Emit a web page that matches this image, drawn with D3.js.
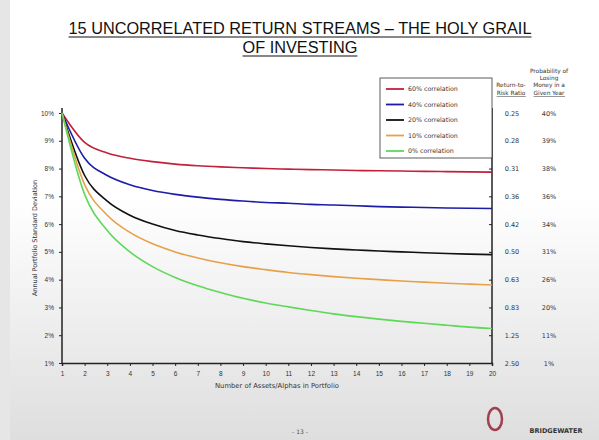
<!DOCTYPE html>
<html><head><meta charset="utf-8">
<script src="https://cdn.jsdelivr.net/npm/d3@7"></script>
<style>body{margin:0;background:#fff;font-family:"DejaVu Sans",sans-serif}</style>
</head><body><div id="chart"></div>
<script>
const assets = d3.range(1, 21);
const corr60 = [10,8.94,8.56,8.37,8.25,8.16,8.10,8.06,8.03,8.0,7.98,7.96,7.95,7.93,7.92,7.91,7.90,7.89,7.88,7.87];
const corr40 = [10,8.37,7.75,7.42,7.21,7.07,6.97,6.89,6.83,6.78,6.75,6.71,6.69,6.66,6.63,6.61,6.60,6.58,6.57,6.56];
const corr20 = [10,7.75,6.83,6.32,6.0,5.77,5.61,5.48,5.37,5.29,5.22,5.16,5.11,5.07,5.03,5.0,4.97,4.94,4.92,4.90];
const corr10 = [10,7.42,6.32,5.70,5.29,5.0,4.78,4.61,4.47,4.36,4.26,4.18,4.11,4.05,4.0,3.95,3.91,3.87,3.84,3.81];
const corr0  = [10,7.07,5.77,5.0,4.47,4.08,3.78,3.54,3.33,3.16,3.02,2.89,2.77,2.67,2.58,2.50,2.43,2.36,2.29,2.24];
const seriesNames = ["60% correlation","40% correlation","20% correlation","10% correlation","0% correlation"];
const seriesColors = ["#c0203a","#1c1ca8","#111111","#e8a048","#5ed858"];
const yTicks = [1,2,3,4,5,6,7,8,9,10];
const ratioLabels = ["2.50","1.25","0.83","0.63","0.50","0.42","0.36","0.31","0.28","0.25"];
const probLabels = ["1%","11%","20%","26%","31%","34%","36%","38%","39%","40%"];
const allSeries = [corr60, corr40, corr20, corr10, corr0];

const W = 599, H = 440;
const svg = d3.select("#chart").append("svg").attr("width", W).attr("height", H);
const grad = svg.append("defs").append("linearGradient").attr("id","bg").attr("x1",0).attr("y1",0).attr("x2",0).attr("y2",1);
grad.append("stop").attr("offset","0.45").attr("stop-color","#ffffff");
grad.append("stop").attr("offset","1").attr("stop-color","#dedede");
svg.append("rect").attr("width",W).attr("height",H).attr("fill","#e6e6e6");
svg.append("rect").attr("x",10).attr("y",0).attr("width",W-10).attr("height",H).attr("fill","url(#bg)");

const x = d3.scaleLinear().domain([1,20]).range([62,492]);
const y = d3.scaleLinear().domain([1,10]).range([363,113]);

// title
[["15 UNCORRELATED RETURN STREAMS – THE HOLY GRAIL",34],["OF INVESTING",53]].forEach(([t,yy])=>{
  const tx = svg.append("text").attr("x",300).attr("y",yy).attr("text-anchor","middle")
    .attr("font-size",16.3).attr("font-family","Liberation Sans, Arial").attr("fill","#111").text(t);
  const bb = tx.node().getBBox();
  svg.append("line").attr("x1",bb.x).attr("x2",bb.x+bb.width).attr("y1",yy+3).attr("y2",yy+3).attr("stroke","#111").attr("stroke-width",1.2);
});

// axes
svg.append("line").attr("x1",x(1)).attr("x2",x(1)).attr("y1",y(10)-5).attr("y2",y(1)).attr("stroke","#222").attr("stroke-width",1.5);
svg.append("line").attr("x1",x(20)).attr("x2",x(20)).attr("y1",y(10)-5).attr("y2",y(1)).attr("stroke","#222").attr("stroke-width",1.5);
const xAxis = svg.append("g").attr("transform",`translate(0,${y(1)})`)
  .call(d3.axisBottom(x).tickValues(assets).tickFormat(d3.format("d")).tickSize(3).tickPadding(5));
xAxis.select(".domain").attr("stroke","#222").attr("stroke-width",1.5);
const yAxis = svg.append("g").attr("transform",`translate(${x(1)},0)`)
  .call(d3.axisLeft(y).tickValues(yTicks).tickFormat(d=>d+"%").tickSizeInner(3).tickSizeOuter(0).tickPadding(5));
yAxis.select(".domain").remove();
svg.append("g").attr("transform",`translate(${x(20)},0)`)
  .call(d3.axisLeft(y).tickValues(yTicks).tickFormat("").tickSizeInner(3).tickSizeOuter(0)).select(".domain").remove();
svg.selectAll(".tick text").attr("font-size",6.5).attr("fill","#333");
svg.selectAll(".tick line").attr("stroke","#222");

// right labels
yTicks.forEach((v,i)=>{
  svg.append("text").attr("x",512).attr("y",y(v)+2.5).attr("text-anchor","middle").attr("font-size",6.5).attr("fill","#333").text(ratioLabels[i]);
  svg.append("text").attr("x",549).attr("y",y(v)+2.5).attr("text-anchor","middle").attr("font-size",6.5).attr("fill","#333").text(probLabels[i]);
});
const hdr = (t,xx,yy,u)=>{
  const tx = svg.append("text").attr("x",xx).attr("y",yy).attr("text-anchor","middle").attr("font-size",5.8).attr("fill","#333").text(t);
  if(u){const bb=tx.node().getBBox();svg.append("line").attr("x1",bb.x).attr("x2",bb.x+bb.width).attr("y1",yy+1.5).attr("y2",yy+1.5).attr("stroke","#333").attr("stroke-width",0.5);}
};
hdr("Probability of",549,73);hdr("Losing",549,80);hdr("Money in a",549,87);hdr("Given Year",549,95,true);
hdr("Return-to-",511,87);hdr("Risk Ratio",511,95,true);

// axis titles
svg.append("text").attr("transform",`translate(37,${y(5.5)}) rotate(-90)`).attr("text-anchor","middle").attr("font-size",6.5).attr("fill","#333").text("Annual Portfolio Standard Deviation");
svg.append("text").attr("x",277).attr("y",388).attr("text-anchor","middle").attr("font-size",6.8).attr("fill","#333").text("Number of Assets/Alphas in Portfolio");

// lines
const line = d3.line().x((d,i)=>x(assets[i])).y(d=>y(d)).curve(d3.curveMonotoneX);
allSeries.forEach((s,i)=>{
  svg.append("path").attr("d",line(s)).attr("fill","none").attr("stroke",seriesColors[i]).attr("stroke-width",1.6);
});

// legend
const lg = svg.append("g");
lg.append("rect").attr("x",380).attr("y",78).attr("width",112).attr("height",80).attr("fill","#fff").attr("stroke","#333").attr("stroke-width",0.8);
seriesNames.forEach((n,i)=>{
  const yy = 89 + i*15.5;
  lg.append("line").attr("x1",386).attr("x2",404).attr("y1",yy).attr("y2",yy).attr("stroke",seriesColors[i]).attr("stroke-width",1.8);
  lg.append("text").attr("x",408).attr("y",yy+2.3).attr("font-size",6.3).attr("fill","#333").text(n);
});

// footer
svg.append("text").attr("x",300).attr("y",434).attr("text-anchor","middle").attr("font-size",6).attr("fill","#555").text("- 13 -");
svg.append("ellipse").attr("cx",495).attr("cy",419).attr("rx",7).attr("ry",11).attr("fill","none").attr("stroke","#a04050").attr("stroke-width",2.5);
svg.append("text").attr("x",556).attr("y",433).attr("text-anchor","middle").attr("font-size",6.5).attr("font-weight","bold").attr("fill","#333").text("BRIDGEWATER");
</script></body></html>
